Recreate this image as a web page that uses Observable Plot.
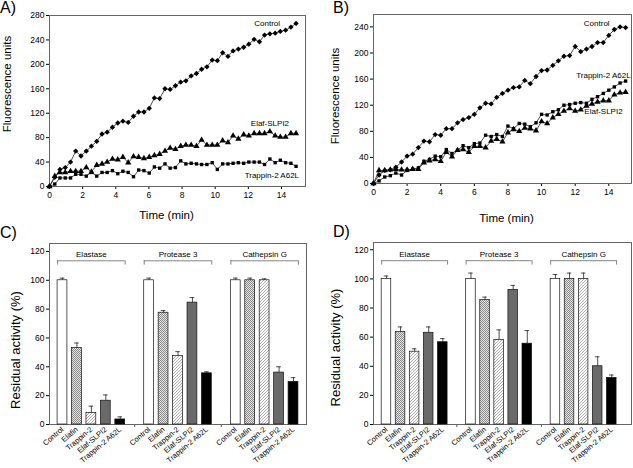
<!DOCTYPE html>
<html><head><meta charset="utf-8">
<script src="https://cdn.jsdelivr.net/npm/d3@7"></script>
<script src="https://cdn.jsdelivr.net/npm/@observablehq/plot@0.6"></script>
<style>
body{margin:0;background:#fff;}
#fig{position:relative;width:633px;height:468px;overflow:hidden;background:#fff;font-family:'Liberation Sans',Arial,Helvetica,sans-serif;}
</style></head>
<body><div id="fig"></div>
<script>
// ---------- Data: panel A (time course, 19 s sampling) ----------
const timesA = [0,0.32,0.63,0.95,1.27,1.58,1.9,2.22,2.53,2.85,3.17,3.48,3.8,4.12,4.43,4.75,5.07,5.38,5.7,6.02,6.33,6.65,6.97,7.28,7.6,7.92,8.23,8.55,8.87,9.18,9.5,9.82,10.13,10.45,10.77,11.08,11.4,11.72,12.03,12.35,12.67,12.98,13.3,13.62,13.93,14.25,14.57,14.88];
const controlA = [0,15,28,31,40,58,50,58,66,74,86,89,97,104,107,105,115,122,122,128,145,144,160,159,165,171,173,181,185,192,196,207,206,219,213,222,225,228,233,241,237,248,250,251,254,256,261,267];
const elafA = [0,17,23,23,25,25,25,31,24,35,37,40,45,44,48,39,49,48,46,48,51,53,58,63,61,66,68,68,66,76,68,68,68,75,72,83,78,85,83,87,87,87,90,83,81,81,87,87];
const trapA = [0,4,14,14,14,20,20,17,23,17,23,23,26,21,25,23,16,27,26,22,32,30,37,30,31,42,37,38,37,36,36,39,28,37,37,38,39,38,40,40,40,36,45,39,43,39,38,33];

// ---------- Data: panel B (time course, 20 s sampling) ----------
const timesB = [0,0.33,0.67,1,1.33,1.67,2,2.33,2.67,3,3.33,3.67,4,4.33,4.67,5,5.33,5.67,6,6.33,6.67,7,7.33,7.67,8,8.33,8.67,9,9.33,9.67,10,10.33,10.67,11,11.33,11.67,12,12.33,12.67,13,13.33,13.67,14,14.33,14.67,15];
const controlB = [0,13,20,21,25,33,42,45,55,65,64,75,74,84,84,93,98,101,106,116,123,122,132,138,143,147,148,158,153,164,173,174,181,188,195,196,210,202,206,210,216,216,227,236,240,239];
const trapB = [0,4,10,12,16,13,20,22,24,34,37,42,41,52,46,51,58,55,61,62,74,72,75,72,88,84,92,91,87,93,106,105,110,113,120,121,123,124,123,129,133,138,143,148,154,157];
const elafB = [0,20,20,21,22,21,21,22,22,32,35,37,34,48,41,51,52,48,57,57,55,65,68,64,78,83,80,85,84,81,95,92,101,106,111,115,111,113,119,122,125,127,127,136,139,140];

// ---------- Data: panels C and D (residual activity, %) ----------
const enzymes = ["Elastase", "Protease 3", "Cathepsin G"];
const inhibitors = ["Control", "Elafin", "Trappin-2", "Elaf-SLPI2", "Trappin-2 A62L"];
const residualC = [[100,53,8,16.5,3.5],[100,77.5,47.5,84.5,35.5],[100,100,100,36,29.5]];
const errorC    = [[1.5,3.5,4.7,4,1.8],[1.5,1.5,3,3.5,1],[1.5,1.5,1,4,3]];
const residualD = [[100,63.5,50,63,56.5],[100,85.5,58,92.5,55.5],[100,100,100,40,32]];
const errorD    = [[2,3.5,2,4,2.5],[4,2,7,3,9],[3,4,4,6.5,2]];

const xTicksTime = [0,2,4,6,8,10,12,14];
const yTicksA = [0,40,80,120,160,200,240,280];
const yTicksB = [0,40,80,120,160,200,240];
const yTicksBar = [0,20,40,60,80,100,120];

// ---------- styles ----------
const FONT = "'Liberation Sans', Arial, Helvetica, sans-serif";
const symbolOf = {"Control": "diamond2", "Elaf-SLPI2": "triangle", "Trappin-2 A62L": "square"};
const radiusOf = {"Control": 2.4, "Elaf-SLPI2": 2.3, "Trappin-2 A62L": 1.9};
const barFills = ["white", "url(#pElafin)", "url(#pTrappin)", "#6a6a6a", "black"];

const fig = document.getElementById("fig");

// pattern definitions
const defsSvg = d3.select(fig).append("svg").attr("width", 0).attr("height", 0)
  .style("position", "absolute").style("left", 0).style("top", 0);
const defs = defsSvg.append("defs");
const p1 = defs.append("pattern").attr("id", "pElafin").attr("patternUnits", "userSpaceOnUse").attr("width", 2).attr("height", 2);
p1.append("rect").attr("width", 2).attr("height", 2).attr("fill", "#e4e4e4");
p1.append("rect").attr("width", 1).attr("height", 1).attr("fill", "#8a8a8a");
p1.append("rect").attr("x", 1).attr("y", 1).attr("width", 1).attr("height", 1).attr("fill", "#8a8a8a");
const p2 = defs.append("pattern").attr("id", "pTrappin").attr("patternUnits", "userSpaceOnUse").attr("width", 3).attr("height", 3);
p2.append("rect").attr("width", 3).attr("height", 3).attr("fill", "white");
p2.append("path").attr("d", "M0,3L3,0M-1,1L1,-1M2,4L4,2").attr("stroke", "#8a8a8a").attr("stroke-width", 0.7);

function place(node, left, top) {
  node.style.position = "absolute";
  node.style.left = left + "px";
  node.style.top = top + "px";
  fig.appendChild(node);
}

function linePanel(cfg) {
  const marks = [
    Plot.axisX({ticks: xTicksTime, tickSize: 3, label: null, fontSize: 8.5, tickPadding: 2}),
    Plot.axisY({ticks: cfg.yTicks, tickSize: 3, label: null, fontSize: 8.5, tickPadding: 2}),
    Plot.frame({stroke: "#666"}),
    Plot.text(["Time (min)"], {frameAnchor: "bottom", textAnchor: "middle", lineAnchor: "middle", text: d => d, dx: cfg.xLabel[0], dy: cfg.xLabel[1], fontSize: 11.5}),
    Plot.text(["Fluorescence units"], {frameAnchor: "left", textAnchor: "middle", lineAnchor: "middle", text: d => d, rotate: -90, dx: cfg.yLabel[0], dy: cfg.yLabel[1], fontSize: 11.5})
  ];
  for (const s of cfg.series) {
    const rows = s.values.map((v, i) => ({t: cfg.times[i], v, name: s.name}));
    marks.push(Plot.line(rows, {x: "t", y: "v", stroke: "#222", strokeWidth: 0.8}));
    marks.push(Plot.dot(rows, {x: "t", y: "v", symbol: symbolOf[s.name], r: radiusOf[s.name], fill: "black", stroke: "none"}));
    const lp = cfg.labels[s.name];
    marks.push(Plot.text(rows, Plot.selectLast({x: "t", y: "v", text: "name", textAnchor: lp.anchor, dx: lp.dx, dy: lp.dy, fontSize: 8})));
  }
  return Plot.plot({
    width: cfg.width, height: cfg.height,
    marginLeft: cfg.m[0], marginRight: cfg.m[1], marginTop: cfg.m[2], marginBottom: cfg.m[3],
    x: {domain: cfg.xDomain},
    y: {domain: cfg.yDomain},
    style: {fontFamily: FONT, background: "transparent", overflow: "visible", color: "black"},
    marks
  });
}

function barPanel(cfg) {
  const rows = [];
  enzymes.forEach((e, g) => inhibitors.forEach((inh, i) =>
    rows.push({enzyme: e, inhibitor: inh, pos: g * 6 + i, value: cfg.values[g][i], err: cfg.errors[g][i]})));
  const groups = enzymes.map((e, g) => ({enzyme: e, first: g * 6, last: g * 6 + 4, mid: g * 6 + 2}));
  const hw = 0.34, cap = 0.16;
  return Plot.plot({
    width: cfg.width, height: cfg.height,
    marginLeft: cfg.m[0], marginRight: cfg.m[1], marginTop: cfg.m[2], marginBottom: cfg.m[3],
    x: {domain: cfg.xDomain},
    y: {domain: cfg.yDomain},
    color: {domain: inhibitors, range: barFills},
    style: {fontFamily: FONT, background: "transparent", overflow: "visible", color: "black"},
    marks: [
      Plot.axisY({ticks: yTicksBar, tickSize: 3, label: null, fontSize: 8.5, tickPadding: 2}),
      Plot.axisX(rows.map(d => d.pos), {tickSize: 0, tickRotate: -40, tickPadding: 4, fontSize: 7.5, label: null,
        tickFormat: p => inhibitors[p % 6]}),
      Plot.axisX([5, 11], {tickSize: 3, tickFormat: () => "", label: null, stroke: "#555"}),
      Plot.frame({stroke: "#666"}),
      Plot.rect(rows, {x1: d => d.pos - hw, x2: d => d.pos + hw, y1: 0, y2: "value", fill: "inhibitor", stroke: "#111", strokeWidth: 0.7}),
      Plot.ruleX(rows, {x: "pos", y1: "value", y2: d => d.value + d.err, stroke: "#222", strokeWidth: 0.8}),
      Plot.ruleY(rows, {y: d => d.value + d.err, x1: d => d.pos - cap, x2: d => d.pos + cap, stroke: "#222", strokeWidth: 0.8}),
      Plot.ruleY(groups, {y: cfg.bracket, x1: d => d.first - hw, x2: d => d.last + hw, stroke: "#777", strokeWidth: 0.9}),
      Plot.ruleX(groups, {x: d => d.first - hw, y1: cfg.bracket - 3, y2: cfg.bracket, stroke: "#777", strokeWidth: 0.9}),
      Plot.ruleX(groups, {x: d => d.last + hw, y1: cfg.bracket - 3, y2: cfg.bracket, stroke: "#777", strokeWidth: 0.9}),
      Plot.text(groups, {x: "mid", y: cfg.bracket + 4.5, text: "enzyme", fontSize: 8}),
      Plot.text(["Residual activity (%)"], {frameAnchor: "left", textAnchor: "middle", lineAnchor: "middle", text: d => d, rotate: -90, dx: cfg.yLabel[0], dy: cfg.yLabel[1], fontSize: 13})
    ]
  });
}

// Panel A
place(linePanel({
  width: 316, height: 232, m: [49, 11, 15, 46],
  xDomain: [0, 15.45], yDomain: [0, 280], yTicks: yTicksA, times: timesA,
  series: [{name: "Control", values: controlA}, {name: "Elaf-SLPI2", values: elafA}, {name: "Trappin-2 A62L", values: trapA}],
  labels: {"Control": {anchor: "end", dx: -16, dy: 0}, "Elaf-SLPI2": {anchor: "end", dx: -7, dy: -10}, "Trappin-2 A62L": {anchor: "end", dx: 3, dy: 9}},
  xLabel: [-11, 29], yLabel: [-42, -17]
}), 0, 0);

// Panel B
place(linePanel({
  width: 317, height: 232, m: [57, 2, 14, 49],
  xDomain: [0, 15.35], yDomain: [0, 259], yTicks: yTicksB, times: timesB,
  series: [{name: "Control", values: controlB}, {name: "Trappin-2 A62L", values: trapB}, {name: "Elaf-SLPI2", values: elafB}],
  labels: {"Control": {anchor: "end", dx: -16, dy: -4}, "Trappin-2 A62L": {anchor: "end", dx: 5, dy: -6}, "Elaf-SLPI2": {anchor: "end", dx: -3, dy: 19}},
  xLabel: [4, 35], yLabel: [-38, -3]
}), 316, 0);

// Panel C
place(barPanel({
  width: 316, height: 236, m: [49, 10, 11, 44],
  xDomain: [-0.9, 16.9], yDomain: [0, 125.5], values: residualC, errors: errorC,
  bracket: 113.5, yLabel: [-34, 16]
}), 0, 232);

// Panel D
place(barPanel({
  width: 317, height: 236, m: [57, 2, 10, 44],
  xDomain: [-0.92, 17.4], yDomain: [0, 125], values: residualD, errors: errorD,
  bracket: 112.5, yLabel: [-38, 14]
}), 316, 232);

// Panel letters
const over = d3.select(fig).append("svg").attr("width", 633).attr("height", 468)
  .style("position", "absolute").style("left", 0).style("top", 0).style("pointer-events", "none");
const letters = [["A)", 0, 12.5], ["B)", 333, 12.5], ["C)", 0, 238], ["D)", 333, 237]];
over.selectAll("text").data(letters).join("text")
  .attr("x", d => d[1]).attr("y", d => d[2]).text(d => d[0])
  .attr("font-family", FONT).attr("font-size", 16).attr("fill", "black");
</script>
</body></html>
